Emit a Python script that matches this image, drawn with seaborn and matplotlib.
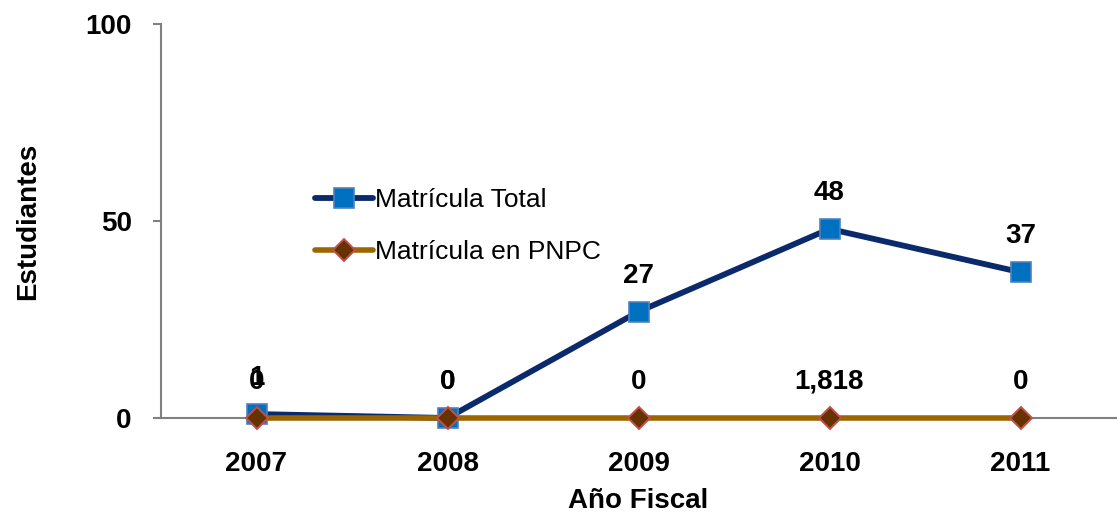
import matplotlib
matplotlib.use("Agg")
import matplotlib.pyplot as plt
import seaborn as sns
import pandas as pd
from matplotlib import font_manager

years = ["2007", "2008", "2009", "2010", "2011"]
total_vals = [1, 0, 27, 48, 37]
pnpc_vals = [0, 0, 0, 0, 0]
total_labels = ["1", "0", "27", "48", "37"]
pnpc_labels = ["0", "0", "0", "1,818", "0"]
yticks = [0, 50, 100]

sns.set_style("white")
names = {f.name for f in font_manager.fontManager.ttflist}
fam = ["Liberation Sans Narrow"] if "Liberation Sans Narrow" in names else []
plt.rcParams["font.family"] = fam + ["Liberation Sans", "DejaVu Sans"]
plt.rcParams["text.color"] = "black"
plt.rcParams["axes.labelcolor"] = "black"
plt.rcParams["xtick.labelcolor"] = "black"
plt.rcParams["ytick.labelcolor"] = "black"

fig = plt.figure(figsize=(11.17, 5.17), dpi=100)
ax = fig.add_axes([161/1117, 1-418/517, (1116-161)/1117, (418-24)/517])

df = pd.DataFrame({"Año": years, "Total": total_vals, "PNPC": pnpc_vals})

sns.lineplot(data=df, x="Año", y="Total", ax=ax, color="#0B2A6B", linewidth=4.2,
             marker="s", markersize=14, markerfacecolor="#0070C0",
             markeredgecolor="#4F81BD", markeredgewidth=1.2,
             label="Matrícula Total", zorder=3, clip_on=False)
sns.lineplot(data=df, x="Año", y="PNPC", ax=ax, color="#9C6500", linewidth=4.0,
             marker="D", markersize=11, markerfacecolor="#663300",
             markeredgecolor="#C0504D", markeredgewidth=1.4,
             label="Matrícula en PNPC", zorder=4, clip_on=False)

for i, (v, t) in enumerate(zip(total_vals, total_labels)):
    ax.annotate(t, (i, v), xytext=(0, 26), textcoords="offset points",
                ha="center", va="center", fontsize=20, fontweight="bold", color="black")
for i, (v, t) in enumerate(zip(pnpc_vals, pnpc_labels)):
    ax.annotate(t, (i, v), xytext=(0, 26), textcoords="offset points",
                ha="center", va="center", fontsize=20, fontweight="bold", color="black")

ax.set_xlim(-0.5, 4.5)
ax.set_ylim(0, 100)
ax.set_yticks(yticks)
ax.set_yticklabels([str(y) for y in yticks], fontsize=20, fontweight="bold")
ax.set_xticks(range(len(years)))
ax.set_xticklabels(years, fontsize=20, fontweight="bold")
ax.set_xticks([i - 0.5 for i in range(len(years) + 1)], minor=True)
ax.tick_params(axis="x", which="major", length=0, pad=24)
ax.tick_params(axis="x", which="minor", length=6, width=1.5, color="#808080", direction="out")
ax.tick_params(axis="y", which="major", length=6, width=1.5, color="#808080", direction="out", pad=15, left=True)

for s in ["top", "right"]:
    ax.spines[s].set_visible(False)
for s in ["left", "bottom"]:
    ax.spines[s].set_color("#808080")
    ax.spines[s].set_linewidth(1.5)

ax.set_xlabel("Año Fiscal", fontsize=20, fontweight="bold", labelpad=8)
ax.set_ylabel("Estudiantes", fontsize=20, fontweight="bold", labelpad=32)

leg = ax.legend(loc="upper left", bbox_to_anchor=(302/1117, 1-175/517),
                bbox_transform=fig.transFigure, frameon=False, fontsize=19,
                handlelength=2.2, handletextpad=0.05, labelspacing=1.07, borderpad=0)

fig.savefig("out.png", dpi=100)
